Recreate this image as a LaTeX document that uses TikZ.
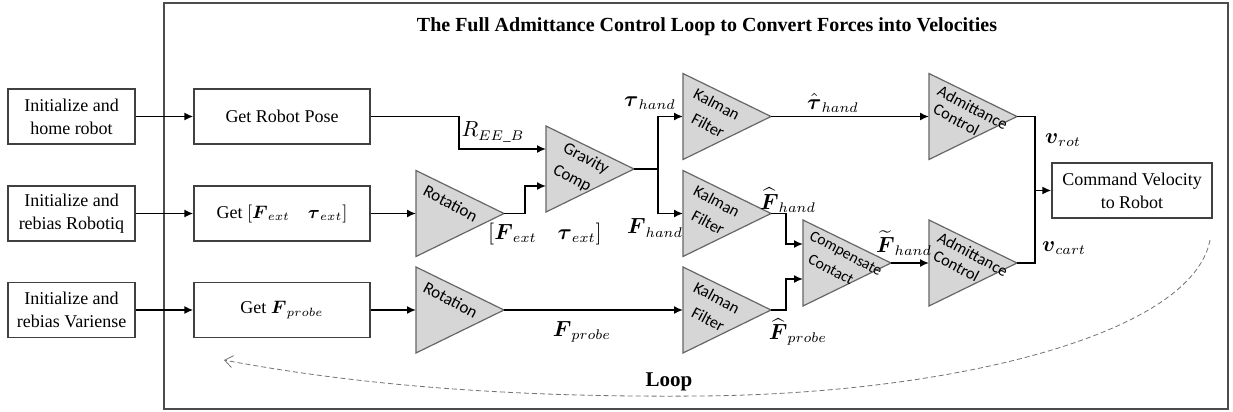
\documentclass[tikz,border=0pt]{standalone}
\usepackage{fontspec}
\usepackage{amsmath}
\setmainfont{Liberation Serif}
\newfontfamily\trifont{Carlito}
\usetikzlibrary{arrows.meta}
\tikzset{
  box/.style={draw=black!75, line width=0.7pt, fill=white, align=center, inner sep=1pt,
              font=\fontsize{9}{11.5}\selectfont},
  tri/.style={draw=black!60, fill=black!16, line width=0.6pt, line join=miter},
  trilabel/.style={rotate=-28, anchor=base west, inner sep=0pt},
  trbig/.style={trilabel, font=\trifont\fontsize{8.5}{10}\selectfont},
  trmid/.style={trilabel, font=\trifont\fontsize{8.2}{10}\selectfont},
  trsmall/.style={trilabel, font=\trifont\fontsize{7.8}{10}\selectfont},
  arr/.style={draw=black, line width=0.8pt, -{Latex[length=4.5pt,width=4pt]}},
  wire/.style={draw=black, line width=0.8pt},
  lab/.style={inner sep=0pt, font=\fontsize{10.5}{12}\selectfont},
  frame/.style={draw=black!70, line width=0.7pt},
  loopline/.style={draw=black!55, line width=0.4pt, dashed, dash pattern=on 2.5pt off 1.5pt,
                   -{Straight Barb[length=4pt,width=6pt]}}
}
\newcommand\mytri[3]{%
  \draw[tri] (#2,#3-43) -- (#2+88,#3) -- (#2,#3+43) -- cycle;
  \coordinate (#1-in) at (#2,#3);
  \coordinate (#1-out) at (#2+88,#3);
}
\begin{document}
\begin{tikzpicture}[x=0.5pt, y=-0.5pt]
\useasboundingbox (0,0) rectangle (1233,412);
% outer frame and title
\draw[frame] (164,3) rectangle (1228,409);
\node[inner sep=0pt, font=\fontsize{10}{12}\selectfont\bfseries] (title) at (707,27)
  {The Full Admittance Control Loop to Convert Forces into Velocities};

% left boxes
\node[box, minimum width=63.5pt, minimum height=27.5pt] (ini1) at (71.5,116.5) {Initialize and\\home robot};
\node[box, minimum width=63.5pt, minimum height=27.5pt] (ini2) at (71.5,213.5) {Initialize and\\rebias Robotiq};
\node[box, minimum width=63.5pt, minimum height=27.5pt] (ini3) at (71.5,310) {Initialize and\\rebias Variense};

% get boxes
\node[box, minimum width=88pt, minimum height=27.5pt] (get1) at (282,116.5) {Get Robot Pose};
\node[box, minimum width=88pt, minimum height=27.5pt] (get2) at (282,213.5) {Get $[\boldsymbol{F}_{ext}\quad \boldsymbol{\tau}_{ext}]$};
\node[box, minimum width=88pt, minimum height=27.5pt] (get3) at (282,310) {Get $\boldsymbol{F}_{probe}$};

% command box
\node[box, minimum width=80pt, minimum height=27.5pt] (cmd) at (1132,190.5) {Command Velocity\\to Robot};

% triangles
\mytri{rot1}{416}{213.5}
\mytri{rot2}{416}{310}
\mytri{grav}{546}{169}
\mytri{k1}{683}{116.5}
\mytri{k2}{683}{213.5}
\mytri{k3}{683}{310}
\mytri{comp}{803}{263}
\mytri{adm1}{929}{116.5}
\mytri{adm2}{929}{263}

% triangle texts
\node[trbig] (rot1-t) at (421.7,194.6) {Rotation};
\node[trbig] (rot2-t) at (421.7,291.1) {Rotation};
\node[trbig] (grav-t1) at (561.7,151.3) {Gravity};
\node[trbig] (grav-t2) at (551.7,172.9) {Comp};
\node[trmid] (k1-t1) at (692,97.4) {Kalman};
\node[trmid] (k1-t2) at (690,122.4) {Filter};
\node[trmid] (k2-t1) at (692,194.4) {Kalman};
\node[trmid] (k2-t2) at (690,219.4) {Filter};
\node[trmid] (k3-t1) at (692,290.9) {Kalman};
\node[trmid] (k3-t2) at (690,315.9) {Filter};
\node[trsmall] (comp-t1) at (808.3,238.9) {Compensate};
\node[trsmall] (comp-t2) at (806.7,262.2) {Contact};
\node[trmid] (adm1-t1) at (936,94.4) {Admittance};
\node[trmid] (adm1-t2) at (931.7,112.7) {Control};
\node[trmid] (adm2-t1) at (936,240.9) {Admittance};
\node[trmid] (adm2-t2) at (931.7,259.2) {Control};

\coordinate (grav-in1) at (546,149);
\coordinate (grav-in2) at (546,186);
\coordinate (comp-in1) at (803,244);
\coordinate (comp-in2) at (803,279);
\coordinate (split) at (658,169);
\coordinate (jn) at (1035,190.5);

% connectors
\draw[arr] (ini1.east) -- (get1.west);
\draw[arr] (ini2.east) -- (get2.west);
\draw[arr] (ini3.east) -- (get3.west);
\draw[arr] (get1.east) -- ++(88,0) |- (grav-in1);
\draw[arr] (get2.east) -- (rot1-in);
\draw[arr] (get3.east) -- (rot2-in);
\draw[arr] (rot1-out) -- ++(21,0) |- (grav-in2);
\draw[wire] (grav-out) -- (split);
\draw[arr] (split) |- (k1-in);
\draw[arr] (split) |- (k2-in);
\draw[arr] (rot2-out) -- (k3-in);
\draw[arr] (k1-out) -- (adm1-in);
\draw[arr] (k2-out) -- ++(15,0) |- (comp-in1);
\draw[arr] (k3-out) -- ++(15,0) |- (comp-in2);
\draw[arr] (comp-out) -- (adm2-in);
\draw[wire] (adm1-out) -| (jn) |- (adm2-out);
\draw[arr] (jn) -- (cmd.west);

% labels
\node[lab] (lree) at (493,132) {$R_{EE\_B}$};
\node[lab] (lfext) at (545,234) {$[\boldsymbol{F}_{ext}\quad \boldsymbol{\tau}_{ext}]$};
\node[lab] (lth) at (650,103) {$\boldsymbol{\tau}_{hand}$};
\node[lab] (lfh) at (655,228) {$\boldsymbol{F}_{hand}$};
\node[lab] (lthh) at (833,103) {$\hat{\boldsymbol{\tau}}_{hand}$};
\node[lab] (lfhh) at (788,200) {$\widehat{\boldsymbol{F}}_{hand}$};
\node[lab] (lfth) at (904,243) {$\widetilde{\boldsymbol{F}}_{hand}$};
\node[lab] (lfp) at (582,332) {$\boldsymbol{F}_{probe}$};
\node[lab] (lfhp) at (798,332) {$\widehat{\boldsymbol{F}}_{probe}$};
\node[lab] (lvr) at (1063,140) {$\boldsymbol{v}_{rot}$};
\node[lab] (lvc) at (1064,248) {$\boldsymbol{v}_{cart}$};

% loop
\coordinate (ls) at (1210,240);
\coordinate (le) at (224,360);
\draw[loopline] (ls) .. controls (1192,335) and (950,394) .. (700,396) .. controls (480,398) and (330,380) .. (le);
\node[inner sep=0pt, font=\fontsize{10.5}{12}\selectfont\bfseries] (loop) at (669,382) {Loop};
\end{tikzpicture}
\end{document}
